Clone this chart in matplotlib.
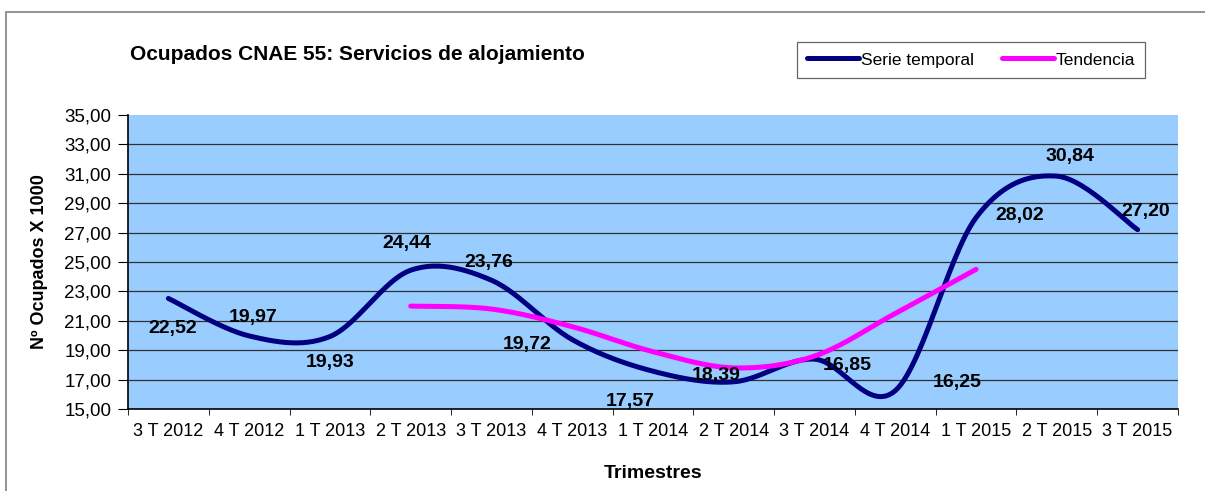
import numpy as np
import matplotlib.pyplot as plt
from matplotlib.patches import Rectangle

plt.rcParams['font.family'] = ['Liberation Sans', 'DejaVu Sans']

# data
trimestres = ["3 T 2012", "4 T 2012", "1 T 2013", "2 T 2013", "3 T 2013", "4 T 2013",
              "1 T 2014", "2 T 2014", "3 T 2014", "4 T 2014", "1 T 2015", "2 T 2015", "3 T 2015"]
serie = [22.52, 19.97, 19.93, 24.44, 23.76, 19.72, 17.57, 16.85, 18.39, 16.25, 28.02, 30.84, 27.20]
tendencia_idx = [3, 4, 5, 6, 7, 8, 9, 10]
tendencia = [22.0, 21.8, 20.6, 18.9, 17.8, 18.6, 21.5, 24.5]

# label offsets (pixels) as placed in the original chart
lab_off = [(4, -30), (4, 18), (0, -26), (-4, 27), (-3, 18), (-45, -5), (-23, -30),
           (113, 16), (-98, -16), (62, 8), (44, 2), (13, 20), (8, 18)]


def smooth(x, y, n=30):
    # catmull-rom style smoothing, like the spreadsheet "smoothed line"
    x = np.asarray(x, float)
    y = np.asarray(y, float)
    px = np.concatenate([[x[0]], x, [x[-1]]])
    py = np.concatenate([[y[0]], y, [y[-1]]])
    xs, ys = [], []
    t = np.linspace(0, 1, n)
    for i in range(1, len(px) - 2):
        p0 = np.array([px[i], py[i]])
        p3 = np.array([px[i + 1], py[i + 1]])
        c1 = p0 + (p3 - np.array([px[i - 1], py[i - 1]])) / 6
        c2 = p3 - (np.array([px[i + 2], py[i + 2]]) - p0) / 6
        b = ((1 - t) ** 3)[:, None] * p0 + (3 * (1 - t) ** 2 * t)[:, None] * c1 \
            + (3 * (1 - t) * t ** 2)[:, None] * c2 + (t ** 3)[:, None] * p3
        xs.extend(b[:, 0])
        ys.extend(b[:, 1])
    return xs, ys


fig = plt.figure(figsize=(12.05, 4.91), dpi=100)
ax = fig.add_axes([128 / 1205, 1 - 409 / 491, 1050 / 1205, 294 / 491])

# chart frame
fig.patches.append(Rectangle((6 / 1205, -0.1), 1.2, 1 - 12 / 491 + 0.1, transform=fig.transFigure,
                             fill=False, edgecolor='#808080', linewidth=1.2))

x = np.arange(len(serie))
sx, sy = smooth(x, serie)
ax.plot(sx, sy, color='#000080', linewidth=3.6, solid_capstyle='round', label='Serie temporal', zorder=3)
tx, ty = smooth(tendencia_idx, tendencia)
ax.plot(tx, ty, color='#FF00FF', linewidth=3.6, solid_capstyle='round', label='Tendencia', zorder=4)

for i, v in enumerate(serie):
    ax.annotate(f"{v:.2f}".replace('.', ','), (i, v), xytext=lab_off[i], textcoords='offset pixels',
                ha='center', va='center', fontsize=14, fontweight='bold', zorder=5)

ax.set_facecolor('#99CCFF')
ax.set_xlim(-0.5, len(serie) - 0.5)
ax.set_ylim(15, 35)
yt = np.arange(15, 36, 2)
ax.set_yticks(yt)
ax.set_yticklabels([f"{v:.2f}".replace('.', ',') for v in yt], fontsize=13.5)
ax.set_xticks(x)
ax.set_xticklabels(trimestres, fontsize=13)
ax.set_xticks(np.arange(-0.5, len(serie), 1), minor=True)
ax.tick_params(axis='x', which='major', length=0, pad=10)
ax.tick_params(axis='x', which='minor', length=4, color='black')
ax.tick_params(axis='y', length=7, pad=5)
ax.grid(axis='y', color='#303030', linewidth=0.9)
gl = ax.get_ygridlines()
gl[0].set_visible(False)
gl[-1].set_visible(False)
ax.set_axisbelow(True)
for s in ['top', 'right']:
    ax.spines[s].set_visible(False)
ax.spines['left'].set_linewidth(1.2)
ax.spines['bottom'].set_linewidth(1.2)

ax.set_ylabel("Nº Ocupados X 1000", fontsize=13, fontweight='bold', labelpad=12)
ax.set_xlabel("Trimestres", fontsize=14, fontweight='bold', labelpad=18)

fig.text(130 / 1205, 1 - 55 / 491, "Ocupados CNAE 55: Servicios de alojamiento",
         fontsize=15, fontweight='bold', ha='left', va='center')

leg = fig.legend(loc='center', bbox_to_anchor=(971 / 1205, 1 - 60 / 491), ncol=2, fontsize=12.5,
                 frameon=True, fancybox=False, edgecolor='#404040', handlelength=3.0,
                 handletextpad=0.1, columnspacing=1.6, borderpad=0.6)
leg.get_frame().set_linewidth(0.9)

fig.savefig('out.png', dpi=100)
